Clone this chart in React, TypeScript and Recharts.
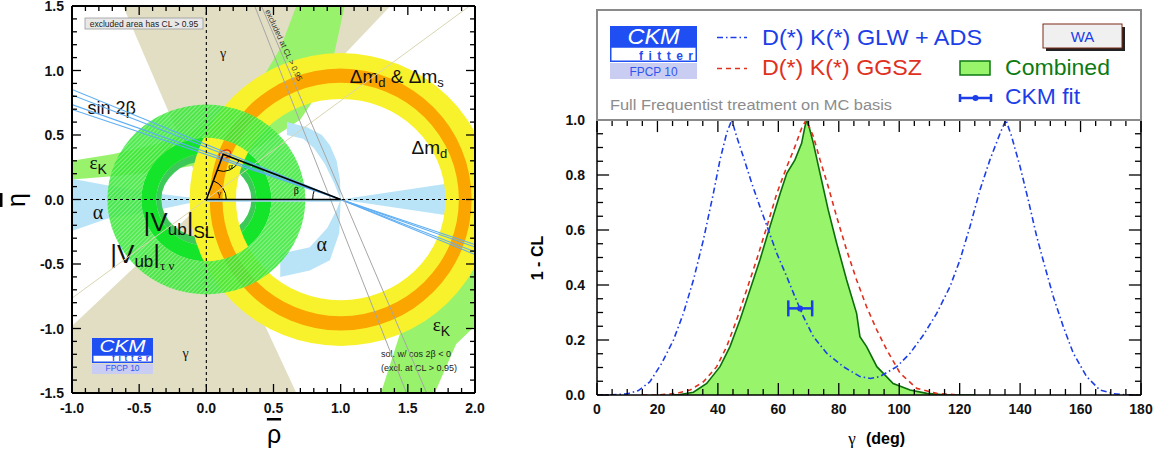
import React from "react";
import { ComposedChart, XAxis, YAxis, ReferenceArea, ReferenceLine, Line, Area, Scatter, ErrorBar } from "recharts";

const SANS = "'Liberation Sans', Arial, Helvetica, sans-serif";
const SERIF = "'Liberation Serif', 'DejaVu Serif', serif";

// ---------- left panel: constraints in the (rho, eta) plane ----------
const rhoDomain = [-1, 2];
const etaDomain = [-1.5, 1.5];

// gamma wedges (apex at the origin) and one of its edge lines
const gammaUpper = [[-0.62, 1.5], [0, 0], [1.37, 1.5]];
const gammaLower = [[-1, -1.5], [-1, -0.98], [0, 0], [0.67, -1.5]];
const gammaEdge = [{ rho: -1, eta: -0.765 }, { rho: 1.96, eta: 1.5 }];

// epsilon_K bands (outline points)
const epsKUpper = [
  [-1, 0.3], [-0.7, 0.35], [-0.4, 0.42], [-0.1, 0.53], [0.2, 0.7], [0.4, 0.91], [0.55, 1.17], [0.67, 1.5],
  [1.03, 1.5], [0.95, 1.12], [0.85, 0.85], [0.7, 0.62], [0.4, 0.41], [0, 0.28], [-0.4, 0.21], [-0.7, 0.18], [-1, 0.155],
];
const epsKLower = [
  [1.3, -1.5], [1.46, -0.98], [1.61, -0.65], [1.76, -0.48], [1.9, -0.4], [2, -0.36],
  [2, -0.98], [1.86, -1.12], [1.7, -1.5],
];

// alpha regions
const alphaLeft = [[-1, 0.16], [-0.74, 0.11], [-0.4, 0.05], [0, 0], [-0.4, -0.09], [-0.74, -0.15], [-1, -0.245]];
const alphaRight = [[1, 0], [2, 0.155], [2, -0.155]];
const alphaUpper = [
  [1, 0], [0.995, 0.15], [0.97, 0.3], [0.92, 0.42], [0.86, 0.5], [0.75, 0.56], [0.6, 0.6],
  [0.6, 0.5], [0.72, 0.47], [0.8, 0.4], [0.88, 0.28], [0.95, 0.13],
];
const alphaLower = [
  [1, 0], [0.99, -0.26], [0.92, -0.47], [0.77, -0.55], [0.55, -0.6],
  [0.55, -0.42], [0.77, -0.37], [0.9, -0.22], [0.97, -0.08],
];

// rings: centre, inner radii (rho, eta), outer radii (rho, eta)
const dmdRing = { c: [1, 0], inner: [0.78, 0.78], outer: [1.125, 1.135] };
const dmsRing = { c: [1, 0], inner: [0.88, 0.905], outer: [0.975, 1.015] };
const vubTauNuRing = { c: [0, 0], inner: [0.484, 0.478], outer: [0.737, 0.736] };
const vubSLRing = { c: [0, 0], inner: [0.372, 0.357], outer: [0.484, 0.478] };
const vubSLOnlyRing = { c: [0, 0], inner: [0.335, 0.297], outer: [0.372, 0.357] };

// straight constraints, each a pair of (rho, eta) points
const sin2bLines = [
  [{ rho: -1, eta: 0.853 }, { rho: 2, eta: -0.427 }],
  [{ rho: -1, eta: 0.81 }, { rho: 2, eta: -0.405 }],
  [{ rho: -1, eta: 0.736 }, { rho: 2, eta: -0.368 }],
  [{ rho: -1, eta: 0.698 }, { rho: 2, eta: -0.349 }],
];
const cos2bLines = [
  [{ rho: 0.36, eta: 1.5 }, { rho: 1.49, eta: -1.5 }],
  [{ rho: 0.41, eta: 1.5 }, { rho: 1.64, eta: -1.5 }],
];

// unitarity triangle and global fit
const triangle = [{ rho: 0, eta: 0 }, { rho: 1, eta: 0 }, { rho: 0.125, eta: 0.35 }, { rho: 0, eta: 0 }];
const fitContour = { c: [0.138, 0.35], r: [0.045, 0.03] };

const rhoTicks = range(-1, 2, 0.1);
const etaTicks = range(-1.5, 1.5, 0.1);

// ---------- right panel: 1 - CL versus gamma ----------
const glwAdsGamma = [0, 5, 10, 13.7, 17.5, 21.4, 25.3, 28.6, 31.9, 35.2, 38.5, 40.7, 42.9, 44.6, 46.2, 48.4, 51.2, 53.9, 56.7, 59.5, 62.8, 65.5, 68.3, 71.6, 76, 81.5, 87, 90.5, 93.6, 99.2, 103.6, 108, 112.4, 116.8, 120.1, 123.4, 126.7, 130, 133.4, 135.3, 137.2, 140, 142.7, 145.5, 148.2, 151, 154.3, 157.6, 162, 166.4, 170.8, 175, 180];
const glwAdsCL = [0, 0.001, 0.004, 0.016, 0.048, 0.115, 0.2, 0.297, 0.418, 0.564, 0.733, 0.855, 0.952, 1.0, 0.94, 0.867, 0.77, 0.685, 0.6, 0.515, 0.43, 0.357, 0.285, 0.212, 0.152, 0.103, 0.067, 0.06, 0.067, 0.103, 0.152, 0.218, 0.297, 0.394, 0.491, 0.612, 0.745, 0.855, 0.952, 1.0, 0.94, 0.83, 0.709, 0.576, 0.467, 0.357, 0.248, 0.152, 0.067, 0.018, 0.005, 0, 0];

const ggszGamma = [15, 19.7, 26.4, 30.8, 35.2, 39.6, 42.9, 46.2, 49.5, 52.8, 56.2, 59.5, 62.8, 65.5, 67.7, 69.2, 71.6, 73.8, 76.5, 79.3, 82.6, 85.9, 89.2, 92.6, 95.9, 100.3, 105.8, 112.4, 120];
const ggszCL = [0, 0, 0.006, 0.018, 0.048, 0.103, 0.176, 0.273, 0.382, 0.491, 0.612, 0.733, 0.83, 0.903, 0.97, 1.0, 0.94, 0.855, 0.758, 0.648, 0.527, 0.418, 0.321, 0.236, 0.164, 0.079, 0.024, 0.006, 0];

const combinedGamma = [25, 27.5, 31.9, 36.3, 40.7, 44, 47.3, 50.6, 53.9, 57.2, 60.6, 62.8, 65.5, 67.7, 68.8, 69.4, 70.3, 71.6, 73.8, 76.5, 79.3, 82.6, 85.9, 87, 89.2, 92.6, 98, 103.6, 109.1, 115.7, 125];
const combinedCL = [0, 0.002, 0.01, 0.042, 0.103, 0.176, 0.273, 0.382, 0.491, 0.612, 0.733, 0.806, 0.855, 0.915, 0.976, 1.0, 0.97, 0.915, 0.806, 0.673, 0.552, 0.418, 0.297, 0.212, 0.176, 0.103, 0.042, 0.018, 0.006, 0, 0];

const ckmFitGamma = [67.2];
const ckmFitCL = [0.315];
const ckmFitErr = [[3.9, 4.0]];

const gammaDomain = [0, 180];
const clDomain = [0, 1];
const gammaTicks = range(0, 180, 5);
const clTicks = range(0, 1, 0.05);

function range(a: number, b: number, s: number) {
  const out: number[] = [];
  for (let i = 0; a + i * s <= b + 1e-9; i++) out.push(Math.round((a + i * s) * 1000) / 1000);
  return out;
}

const zip = (xs: number[], ys: number[]) => xs.map((g, i) => ({ gamma: g, cl: ys[i] }));
const glwAdsData = zip(glwAdsGamma, glwAdsCL);
const ggszData = zip(ggszGamma, ggszCL);
const combinedData = zip(combinedGamma, combinedCL);
const ckmFitData = ckmFitGamma.map((g, i) => ({ gamma: g, cl: ckmFitCL[i], err: ckmFitErr[i] }));

function isMultiple(v: number, step: number) {
  return Math.abs(v / step - Math.round(v / step)) < 1e-6;
}

// inward tick marks on the four sides, as reference-line segments (lengths in axis units)
function frameSegments(
  xd: number[], yd: number[], xt: number[], yt: number[], xMaj: number, yMaj: number,
  lenX: number[], lenY: number[],
) {
  const segs: { x: number; y: number }[][] = [];
  xt.forEach((v) => {
    const L = isMultiple(v, xMaj) ? lenY[0] : lenY[1];
    segs.push([{ x: v, y: yd[0] }, { x: v, y: yd[0] + L }]);
    segs.push([{ x: v, y: yd[1] }, { x: v, y: yd[1] - L }]);
  });
  yt.forEach((v) => {
    const L = isMultiple(v, yMaj) ? lenX[0] : lenX[1];
    segs.push([{ x: xd[0], y: v }, { x: xd[0] + L, y: v }]);
    segs.push([{ x: xd[1], y: v }, { x: xd[1] - L, y: v }]);
  });
  return segs;
}

const rhoEtaFrame = frameSegments(rhoDomain, etaDomain, rhoTicks, etaTicks, 0.5, 0.5, [0.067, 0.037], [0.07, 0.039]);
const gammaFrame = frameSegments(gammaDomain, clDomain, gammaTicks, clTicks, 20, 0.2, [4, 2], [0.044, 0.022]);

type LabelCfg = { side: "bottom" | "left"; major: number; fmt: (v: number) => string; gap: number };

function AxisLabel(props: any) {
  const cfg: LabelCfg = props.cfg;
  const px = Number(props.x);
  const py = Number(props.y);
  const v = Number(props.payload?.value);
  if (!isMultiple(v, cfg.major)) return <g />;
  const txt = { fontFamily: SANS, fontWeight: 700, fontSize: 14, fill: "#111" };
  return cfg.side === "bottom" ? (
    <text x={px} y={py + cfg.gap} textAnchor="middle" {...txt}>{cfg.fmt(v)}</text>
  ) : (
    <text x={px - cfg.gap} y={py + 5} textAnchor="end" {...txt}>{cfg.fmt(v)}</text>
  );
}

const fmt1 = (v: number) => v.toFixed(1);
const fmt0 = (v: number) => String(Math.round(v));

function RhoEtaLayers(props: any) {
  const { x, y, width, height } = props;
  if (width == null || height == null) return null;
  const kx = width / (rhoDomain[1] - rhoDomain[0]);
  const ky = height / (etaDomain[1] - etaDomain[0]);
  const sx = (v: number) => x + (v - rhoDomain[0]) * kx;
  const sy = (v: number) => y + (etaDomain[1] - v) * ky;
  const poly = (pts: number[][]) =>
    pts.map((p, i) => `${i ? "L" : "M"}${sx(p[0]).toFixed(2)},${sy(p[1]).toFixed(2)}`).join("") + "Z";
  const ell = (c: number[], r: number[]) => {
    const X = sx(c[0]);
    const Y = sy(c[1]);
    const RX = r[0] * kx;
    const RY = r[1] * ky;
    return `M${X - RX},${Y}a${RX},${RY} 0 1,0 ${2 * RX},0a${RX},${RY} 0 1,0 ${-2 * RX},0Z`;
  };
  const ring = (g: { c: number[]; inner: number[]; outer: number[] }) => ell(g.c, g.outer) + ell(g.c, g.inner);

  const O = [sx(triangle[0].rho), sy(triangle[0].eta)];
  const B = [sx(triangle[1].rho), sy(triangle[1].eta)];
  const A = [sx(triangle[2].rho), sy(triangle[2].eta)];
  const ang = (from: number[], to: number[]) => Math.atan2(to[1] - from[1], to[0] - from[0]);
  const arc = (c: number[], p1: number[], p2: number[], r: number) => {
    const a1 = ang(c, p1);
    const a2 = ang(c, p2);
    let dd = a2 - a1;
    while (dd > Math.PI) dd -= 2 * Math.PI;
    while (dd <= -Math.PI) dd += 2 * Math.PI;
    const sweep = dd > 0 ? 1 : 0;
    return `M${c[0] + r * Math.cos(a1)},${c[1] + r * Math.sin(a1)}A${r},${r} 0 0,${sweep} ${c[0] + r * Math.cos(a2)},${c[1] + r * Math.sin(a2)}`;
  };
  const fc = [sx(fitContour.c[0]), sy(fitContour.c[1])];

  return (
    <g>
      <defs>
        <clipPath id="rhoEtaClip">
          <rect x={x} y={y} width={width} height={height} />
        </clipPath>
        <pattern id="vubHatch" patternUnits="userSpaceOnUse" width="3" height="3" patternTransform="rotate(45)">
          <rect width="3" height="3" fill="#34e634" fillOpacity={0.85} />
          <line x1="0.5" y1="0" x2="0.5" y2="3" stroke="#d0f8c8" strokeOpacity={0.6} strokeWidth="0.8" />
        </pattern>
      </defs>
      <g clipPath="url(#rhoEtaClip)">
        <path d={poly(gammaUpper)} fill="#e1dec3" />
        <path d={poly(gammaLower)} fill="#e1dec3" />
        <path d={poly(epsKUpper)} fill="#98f26c" />
        <path d={poly(epsKLower)} fill="#98f26c" />
        <path d={poly(alphaLeft)} fill="#b9e4f8" />
        <path d={poly(alphaRight)} fill="#b9e4f8" />
        <path d={poly(alphaUpper)} fill="#b9e4f8" />
        <path d={poly(alphaLower)} fill="#b9e4f8" />
        <path d={ring(vubSLOnlyRing)} fill="#3cc957" fillRule="evenodd" />
        <path d={ring(vubSLRing)} fill="#14e52b" fillRule="evenodd" />
        <path d={ring(dmdRing)} fill="#f8f22c" fillRule="evenodd" />
        <path d={ring(dmsRing)} fill="#fba600" fillRule="evenodd" />
        <path d={ring(vubTauNuRing)} fill="url(#vubHatch)" fillRule="evenodd" />
        <line x1={O[0]} y1={O[1] + 1} x2={B[0]} y2={B[1] + 1} stroke="#a9dcf5" strokeWidth={2.5} />
        <path d={arc(O, B, A, 20)} fill="none" stroke="#000" strokeWidth={1} />
        <path d={arc(A, O, B, 17)} fill="none" stroke="#000" strokeWidth={1} />
        <path d={arc(B, A, O, 28)} fill="none" stroke="#000" strokeWidth={1} />
        <text x={O[0] + 11} y={O[1] - 4} fontSize={9} fontFamily={SERIF}>γ</text>
        <text x={A[0] + 5} y={A[1] + 15} fontSize={9} fontFamily={SERIF}>α</text>
        <text x={B[0] - 47} y={B[1] - 6} fontSize={10} fontFamily={SERIF}>β</text>
        <ellipse cx={fc[0]} cy={fc[1]} rx={fitContour.r[0] * kx} ry={fitContour.r[1] * ky} transform={`rotate(-25 ${fc[0]} ${fc[1]})`} fill="#ffc640" stroke="#e5380c" strokeWidth={1.5} />
        <ellipse cx={fc[0]} cy={fc[1]} rx={fitContour.r[0] * kx * 0.5} ry={fitContour.r[1] * ky * 0.5} transform={`rotate(-25 ${fc[0]} ${fc[1]})`} fill="#ff9a00" />

        <g fontFamily={SANS} fill="#111">
          <text x={sx(0.125)} y={sy(1.1)} fontSize={14} fontFamily={SERIF} textAnchor="middle">γ</text>
          <text x={sx(-0.154)} y={sy(-1.225)} fontSize={14} fontFamily={SERIF} textAnchor="middle">γ</text>
          <text x={sx(-0.884)} y={sy(0.66)} fontSize={18}>sin 2β</text>
          <text x={sx(-0.869)} y={sy(0.233)} fontSize={19} fontFamily={SERIF}>ε<tspan fontFamily={SANS} fontSize={14} dy={5}>K</tspan></text>
          <text x={sx(-0.845)} y={sy(-0.155)} fontSize={20} fontFamily={SERIF}>α</text>
          <text x={sx(-0.467)} y={sy(-0.248)}>
            <tspan fontSize={26}>|V</tspan>
            <tspan fontSize={17} dy={4}>ub</tspan>
            <tspan fontSize={26} dy={-4}>|</tspan>
            <tspan fontSize={17} dy={7}>SL</tspan>
          </text>
          <text x={sx(-0.715)} y={sy(-0.49)}>
            <tspan fontSize={26}>|V</tspan>
            <tspan fontSize={17} dy={4}>ub</tspan>
            <tspan fontSize={26} dy={-4}>|</tspan>
            <tspan fontSize={13} dy={7} fontFamily={SERIF}>τ ν</tspan>
          </text>
          <text x={sx(1.068)} y={sy(0.905)} fontSize={19}>
            Δm<tspan fontSize={13} dy={4}>d</tspan>
            <tspan dy={-4}> &amp; Δm</tspan>
            <tspan fontSize={13} dy={4}>s</tspan>
          </text>
          <text x={sx(1.527)} y={sy(0.349)} fontSize={19}>
            Δm<tspan fontSize={13} dy={4}>d</tspan>
          </text>
          <text x={sx(0.82)} y={sy(-0.4)} fontSize={20} fontFamily={SERIF}>α</text>
          <text x={sx(1.685)} y={sy(-1.02)} fontSize={19} fontFamily={SERIF}>ε<tspan fontFamily={SANS} fontSize={14} dy={5}>K</tspan></text>
          <text x={sx(1.3)} y={sy(-1.222)} fontSize={9} fill="#222">sol. w/ cos 2β &lt; 0</text>
          <text x={sx(1.3)} y={sy(-1.326)} fontSize={9} fill="#222">(excl. at CL &gt; 0.95)</text>
        </g>
      </g>
    </g>
  );
}

function Logo({ x, y, w, h1, h2, h3, ckm, fitter, fpcp }: any) {
  return (
    <g fontFamily={SANS}>
      <rect x={x} y={y} width={w} height={h1} fill="#1f4ff2" />
      <text x={x + w / 2} y={y + h1 - 3} fill="#fff" fontStyle="italic" fontSize={ckm.size} textAnchor="middle" textLength={ckm.len} lengthAdjust="spacingAndGlyphs">CKM</text>
      <rect x={x + 0.75} y={y + h1} width={w - 1.5} height={h2 - 0.75} fill="#fff" stroke="#1f4ff2" strokeWidth={1.5} />
      <text x={x + w - fitter.len - 4} y={y + h1 + h2 - 2} fill="#1f4ff2" fontWeight={700} fontSize={fitter.size} textLength={fitter.len} lengthAdjust="spacing">fitter</text>
      <rect x={x} y={y + h1 + h2 + 1} width={w} height={h3} fill="#cacdf2" />
      <text x={x + w / 2} y={y + h1 + h2 + h3 - 2} fill="#2f55f0" fontSize={fpcp.size} textAnchor="middle" textLength={fpcp.len} lengthAdjust="spacingAndGlyphs">FPCP 10</text>
    </g>
  );
}

function Overlay() {
  const blue = "#1c3ee8";
  return (
    <svg width={1167} height={454} style={{ position: "absolute", left: 0, top: 0, pointerEvents: "none" }}>
      {/* left panel annotations */}
      <rect x={85} y={18} width={118} height={11} fill="#e8e8e8" stroke="#9a9a9a" strokeWidth={0.8} />
      <text x={144} y={26.5} fontSize={8.5} textAnchor="middle" fill="#222" fontFamily={SANS}>excluded area has CL &gt; 0.95</text>
      <text x={265} y={11} fontSize={8} fill="#333" fontFamily={SANS} transform="rotate(65.2 265 11)">excluded at CL &gt; 0.95</text>
      <Logo x={92} y={338} w={61} h1={17} h2={8} h3={10} ckm={{ size: 16, len: 46 }} fitter={{ size: 8.5, len: 37 }} fpcp={{ size: 8.5, len: 34 }} />
      <text x={274} y={443} fontSize={25} textAnchor="middle" fontFamily={SANS} style={{ textDecoration: "overline" }}>ρ</text>
      <text x={25} y={200} fontSize={25} textAnchor="middle" fontFamily={SANS} transform="rotate(-90 25 200)" style={{ textDecoration: "overline" }}>η</text>

      {/* right panel frame and legend */}
      <rect x={597} y={10} width={544} height={110} fill="none" stroke="#8a8a8a" strokeWidth={2} />
      <Logo x={610} y={26} w={87} h1={21} h2={15} h3={16} ckm={{ size: 22, len: 52 }} fitter={{ size: 12, len: 54 }} fpcp={{ size: 12, len: 48 }} />
      <line x1={717} y1={37.5} x2={747} y2={37.5} stroke={blue} strokeWidth={1.6} strokeDasharray="6 3 1.5 3" />
      <line x1={717} y1={68.5} x2={747} y2={68.5} stroke="#e0301e" strokeWidth={1.6} strokeDasharray="5 4" />
      <g fontFamily={SANS} fontSize={22}>
        <text x={762} y={45} fill={blue} textLength={220} lengthAdjust="spacingAndGlyphs">D(*) K(*) GLW + ADS</text>
        <text x={762} y={75} fill="#e0301e" textLength={160} lengthAdjust="spacingAndGlyphs">D(*) K(*) GGSZ</text>
        <text x={1005} y={75} fill="#0e7a12" textLength={105} lengthAdjust="spacingAndGlyphs">Combined</text>
        <text x={1005} y={104} fill={blue} textLength={75} lengthAdjust="spacingAndGlyphs">CKM fit</text>
      </g>
      <text x={610} y={110} fontFamily={SANS} fontSize={15.5} fill="#8c8c8c" textLength={282} lengthAdjust="spacingAndGlyphs">Full Frequentist treatment on MC basis</text>
      <rect x={960} y={61} width={30} height={14} fill="#98f46a" stroke="#0e7a12" strokeWidth={1.5} />
      <line x1={960} y1={98} x2={991} y2={98} stroke={blue} strokeWidth={2.5} />
      <line x1={960} y1={94} x2={960} y2={102} stroke={blue} strokeWidth={2.5} />
      <line x1={991} y1={94} x2={991} y2={102} stroke={blue} strokeWidth={2.5} />
      <circle cx={975.5} cy={98} r={3} fill={blue} />
      <rect x={1046} y={27} width={79} height={24} fill="#222" />
      <rect x={1043} y={24} width={79} height={24} fill="#f0f0f0" stroke="#7a2a1a" strokeWidth={1} />
      <text x={1082.5} y={42} fontFamily={SANS} fontSize={15} fill={blue} textAnchor="middle">WA</text>
      <text x={543} y={258} fontFamily={SANS} fontSize={16} fontWeight={700} textAnchor="middle" transform="rotate(-90 543 258)">1 - CL</text>
      <text x={852} y={444} fontFamily={SERIF} fontSize={17} textAnchor="middle">γ</text>
      <text x={866} y={444} fontFamily={SANS} fontSize={16} fontWeight={700}>(deg)</text>
    </svg>
  );
}

export default function App() {
  const axisLine = { stroke: "#000", strokeWidth: 2 };
  const frameLine = { stroke: "#000", strokeWidth: 1.5 };
  return (
    <div style={{ position: "absolute", left: 0, top: 0, width: 1167, height: 454, background: "#fff" }}>
      <div style={{ position: "absolute", left: 0, top: 0 }}>
        <ComposedChart width={520} height={454} data={triangle} margin={{ top: 1, right: 40, bottom: 31, left: 32 }}>
          <ReferenceArea x1={rhoDomain[0]} x2={rhoDomain[1]} y1={etaDomain[0]} y2={etaDomain[1]} ifOverflow="visible" shape={(p: any) => <RhoEtaLayers {...p} />} />
          <Line data={gammaEdge} dataKey="eta" type="linear" stroke="#d9d5b2" strokeWidth={1} dot={false} isAnimationActive={false} />
          {sin2bLines.map((l, i) => (
            <Line key={`s${i}`} data={l} dataKey="eta" type="linear" stroke="#5eaef3" strokeWidth={1.1} dot={false} isAnimationActive={false} />
          ))}
          {cos2bLines.map((l, i) => (
            <Line key={`c${i}`} data={l} dataKey="eta" type="linear" stroke="#a6a6a6" strokeWidth={1} dot={false} isAnimationActive={false} />
          ))}
          <ReferenceLine x={0} stroke="#000" strokeWidth={1.1} strokeDasharray="3 3" />
          <ReferenceLine y={0} stroke="#000" strokeWidth={1.1} strokeDasharray="3 3" />
          <Line data={triangle} dataKey="eta" type="linear" stroke="#000" strokeWidth={1.6} dot={false} isAnimationActive={false} />
          {rhoEtaFrame.map((s, i) => (
            <ReferenceLine key={`f${i}`} segment={s} stroke="#000" strokeWidth={1.3} ifOverflow="visible" />
          ))}
          <XAxis dataKey="rho" type="number" domain={rhoDomain} ticks={rhoTicks} interval={0} allowDataOverflow height={30} tickSize={0} tickMargin={0} axisLine={axisLine} tickLine={false} tick={(p: any) => <AxisLabel {...p} cfg={{ side: "bottom", major: 0.5, fmt: fmt1, gap: 20 }} />} />
          <XAxis xAxisId="top" orientation="top" dataKey="rho" type="number" domain={rhoDomain} allowDataOverflow height={5} axisLine={axisLine} tickLine={false} tick={false} />
          <YAxis dataKey="eta" type="number" domain={etaDomain} ticks={etaTicks} interval={0} allowDataOverflow width={40} tickSize={0} tickMargin={0} axisLine={axisLine} tickLine={false} tick={(p: any) => <AxisLabel {...p} cfg={{ side: "left", major: 0.5, fmt: fmt1, gap: 8 }} />} />
          <YAxis yAxisId="right" orientation="right" dataKey="eta" type="number" domain={etaDomain} allowDataOverflow width={5} axisLine={axisLine} tickLine={false} tick={false} />
        </ComposedChart>
      </div>
      <div style={{ position: "absolute", left: 520, top: 0 }}>
        <ComposedChart width={647} height={454} margin={{ top: 115, right: 21, bottom: 29, left: 17 }}>
          <XAxis dataKey="gamma" type="number" domain={gammaDomain} ticks={gammaTicks} interval={0} allowDataOverflow height={30} tickSize={0} tickMargin={0} axisLine={frameLine} tickLine={false} tick={(p: any) => <AxisLabel {...p} cfg={{ side: "bottom", major: 20, fmt: fmt0, gap: 19 }} />} />
          <XAxis xAxisId="top" orientation="top" dataKey="gamma" type="number" domain={gammaDomain} allowDataOverflow height={5} axisLine={frameLine} tickLine={false} tick={false} />
          <YAxis dataKey="cl" type="number" domain={clDomain} ticks={clTicks} interval={0} allowDataOverflow width={60} tickSize={0} tickMargin={0} axisLine={frameLine} tickLine={false} tick={(p: any) => <AxisLabel {...p} cfg={{ side: "left", major: 0.2, fmt: fmt1, gap: 12 }} />} />
          <YAxis yAxisId="right" orientation="right" dataKey="cl" type="number" domain={clDomain} allowDataOverflow width={5} axisLine={frameLine} tickLine={false} tick={false} />
          <Area data={combinedData} dataKey="cl" type="linear" fill="#98f46a" fillOpacity={1} stroke="#0b6e0b" strokeWidth={1.6} isAnimationActive={false} />
          <Line data={ggszData} dataKey="cl" type="linear" stroke="#e0301e" strokeWidth={1.6} strokeDasharray="5 4" dot={false} isAnimationActive={false} />
          <Line data={glwAdsData} dataKey="cl" type="linear" stroke="#1c3ee8" strokeWidth={1.6} strokeDasharray="6 3 1.5 3" dot={false} isAnimationActive={false} />
          {gammaFrame.map((s, i) => (
            <ReferenceLine key={`g${i}`} segment={s} stroke="#000" strokeWidth={1.3} ifOverflow="visible" />
          ))}
          <Scatter data={ckmFitData} dataKey="cl" fill="#1c3ee8" isAnimationActive={false} shape={(p: any) => <circle cx={p.cx} cy={p.cy} r={3} fill="#1c3ee8" />}>
            <ErrorBar dataKey="err" direction="x" width={8} stroke="#1c3ee8" strokeWidth={2.5} isAnimationActive={false} />
          </Scatter>
        </ComposedChart>
      </div>
      <Overlay />
    </div>
  );
}
